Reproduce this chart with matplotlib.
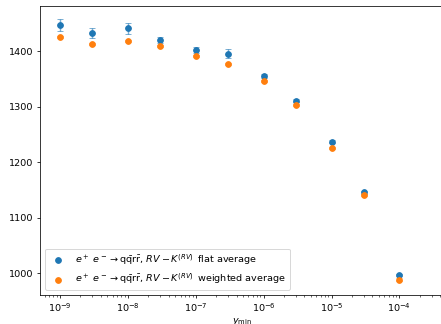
import matplotlib
matplotlib.use("Agg")
import matplotlib.pyplot as plt

# y_min cut values
ymin = [1e-9, 3e-9, 1e-8, 3e-8, 1e-7, 3e-7, 1e-6, 3e-6, 1e-5, 3e-5, 1e-4]

# flat average and its uncertainty
flat = [1446.8, 1431.8, 1440.8, 1419.8, 1401.8, 1395.0, 1355.0, 1310.6, 1236.9, 1145.8, 997.0]
flat_err = [10.0, 9.0, 10.0, 6.0, 5.0, 8.0, 3.0, 3.0, 3.0, 2.5, 2.0]

# weighted average and its uncertainty
weighted = [1424.6, 1413.0, 1417.5, 1408.5, 1391.0, 1376.0, 1346.6, 1302.3, 1225.0, 1141.0, 988.7]
weighted_err = [2.0, 2.0, 2.0, 2.0, 2.0, 2.0, 2.0, 2.0, 2.0, 2.0, 2.0]

proc = r"$e^+\ e^-\to$q$\bar{\rm q}$r$\bar{\rm r}$, $RV-K^{(RV)}\,$"
label_flat = proc + " flat average"
label_weighted = proc + " weighted average"

dpi = 68.9
fig = plt.figure(figsize=(441 / dpi, 324 / dpi), dpi=dpi)
ax = fig.add_axes([40 / 441, 29 / 324, 405 / 441, 289 / 324])

ax.errorbar(ymin, flat, yerr=flat_err, fmt='none', ecolor='C0', alpha=0.6, capsize=3)
ax.errorbar(ymin, weighted, yerr=weighted_err, fmt='none', ecolor='C1', alpha=0.6, capsize=3)
ax.scatter(ymin, flat, color='C0', label=label_flat, zorder=3)
ax.scatter(ymin, weighted, color='C1', label=label_weighted, zorder=3)

ax.set_xscale('log')
ax.set_xlim(10 ** -9.29, 10 ** -3.33)
ax.set_ylim(961, 1481)
ax.set_yticks([1000, 1100, 1200, 1300, 1400])
ax.set_xlabel(r"$y_{\min}$", labelpad=2)
ax.legend(loc='lower left')

fig.savefig("out.png", dpi=dpi)
